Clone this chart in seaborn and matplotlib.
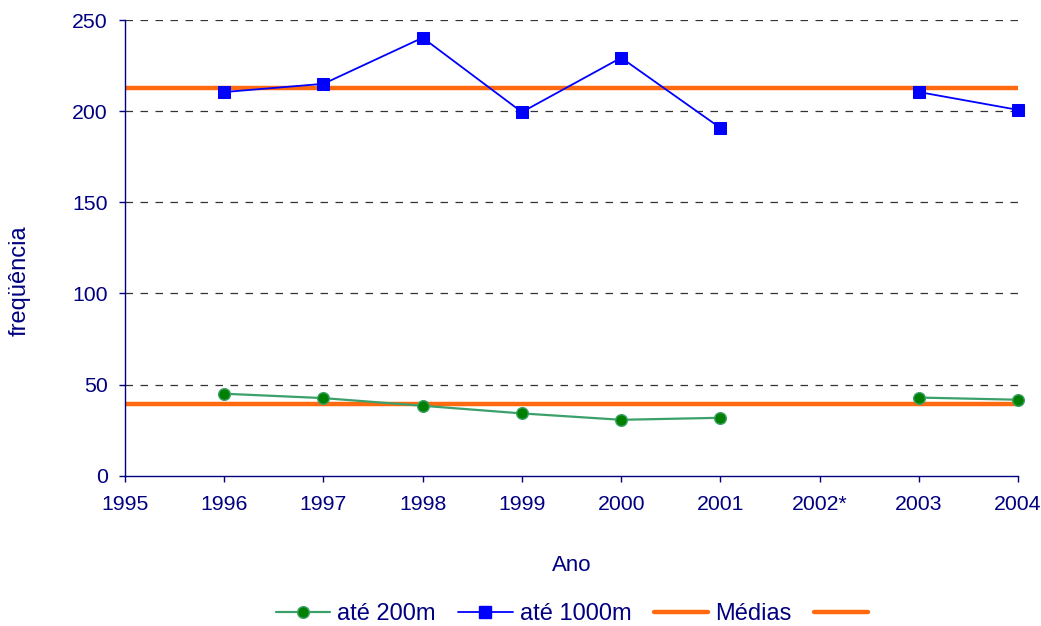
import matplotlib
matplotlib.use("Agg")
import matplotlib.pyplot as plt
import seaborn as sns
import pandas as pd
import numpy as np
from matplotlib.lines import Line2D

# values (2002 has no data)
years = [1996, 1997, 1998, 1999, 2000, 2001, 2002, 2003, 2004]
ate_200m = [45, 42.6, 38.4, 34.2, 30.7, 31.8, None, 42.9, 41.7]
ate_1000m = [210.5, 215, 240.3, 199.5, 229.3, 190.8, None, 210.5, 200.7]
medias = [212.7, 39.5]
tick_years = [1995, 1996, 1997, 1998, 1999, 2000, 2001, 2002, 2003, 2004]
tick_labels = ['1995', '1996', '1997', '1998', '1999', '2000', '2001', '2002*', '2003', '2004']

navy = '#000080'
green_line = '#3CA06A'
green_mark = '#008000'
blue = '#0000FF'
orange = '#FF6A10'

sns.set_style("white")
plt.rcParams['font.family'] = ['Liberation Sans', 'DejaVu Sans']

df = pd.DataFrame({'Ano': years, 'p200': ate_200m, 'p1000': ate_1000m})
df = df.dropna()
# split the series where the year is missing so the line breaks
df['seg'] = np.where(df['Ano'] < 2002, 1, 2)

fig = plt.figure(figsize=(10.41, 6.26), dpi=100)
ax = fig.add_axes([0.12, 0.24, 0.858, 0.728])

for m in medias:
    sns.lineplot(x=[1995, 2004], y=[m, m], ax=ax, color=orange, lw=3.2, zorder=2)

sns.lineplot(data=df, x='Ano', y='p1000', units='seg', estimator=None, ax=ax,
             color=blue, lw=1.3, marker='s', markersize=9.2, markeredgecolor=blue,
             zorder=3, clip_on=False)
sns.lineplot(data=df, x='Ano', y='p200', units='seg', estimator=None, ax=ax,
             color=green_line, lw=1.6, marker='o', markersize=8.4,
             markerfacecolor=green_mark, markeredgecolor=green_line,
             markeredgewidth=1, zorder=3, clip_on=False)

ax.set_xlim(1995, 2004)
ax.set_ylim(0, 250)
ax.set_yticks([0, 50, 100, 150, 200, 250])
ax.set_xticks(tick_years)
ax.set_xticklabels(tick_labels)
ax.tick_params(bottom=True, left=True, colors=navy, labelsize=15.3, length=4.5,
               width=1, direction='out', labelcolor=navy)
ax.tick_params(axis='x', pad=9)
ax.tick_params(axis='y', pad=8)

for y in [50, 100, 150, 200, 250]:
    ax.axhline(y, color='#333333', lw=0.9, ls=(0, (6, 6)), zorder=1)

sns.despine(ax=ax)
ax.spines['left'].set_color(navy)
ax.spines['bottom'].set_color(navy)
ax.spines['left'].set_linewidth(1)
ax.spines['bottom'].set_linewidth(1)

ax.set_xlabel('Ano', fontsize=16, color=navy)
ax.set_ylabel('freqüência', fontsize=17, color=navy)
ax.xaxis.set_label_coords(0.5, -0.173)
ax.yaxis.set_label_coords(-0.106, 0.428)

handles = [
    Line2D([], [], color=green_line, lw=1.6, marker='o', markersize=8.4,
           markerfacecolor=green_mark, markeredgecolor=green_line),
    Line2D([], [], color=blue, lw=1.3, marker='s', markersize=9.2),
    Line2D([], [], color=orange, lw=3.2),
    Line2D([], [], color=orange, lw=3.2),
]
labels = ['até 200m', 'até 1000m', 'Médias', '']
leg = fig.legend(handles, labels, loc='center', bbox_to_anchor=(0.553, 1 - 614 / 626),
                 ncol=4, frameon=False, fontsize=17, handlelength=2.3,
                 handletextpad=0.3, columnspacing=0.95)
for txt in leg.get_texts():
    txt.set_color(navy)

fig.savefig('out.png', dpi=100)
